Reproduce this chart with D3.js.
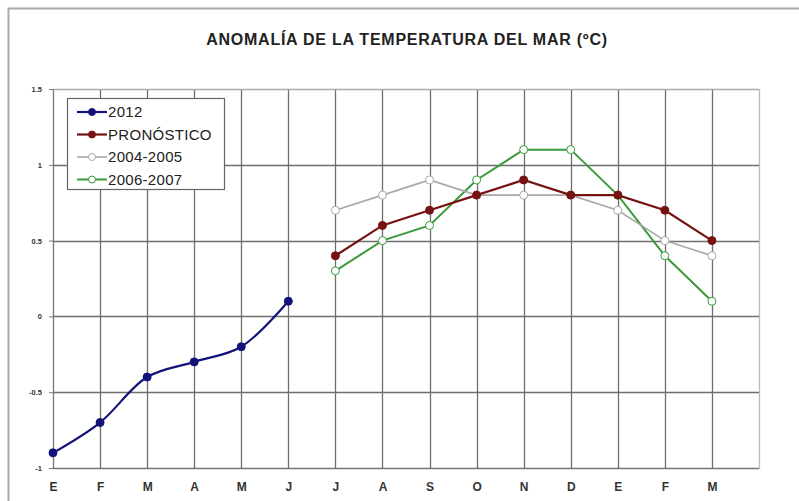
<!DOCTYPE html>
<html>
<head>
<meta charset="utf-8">
<script src="https://cdn.jsdelivr.net/npm/d3@7"></script>
<style>
  body { margin: 0; background: #fff; }
  svg { font-family: "Liberation Sans", Arial, sans-serif; }
</style>
</head>
<body>
<div id="chart"></div>
<script>
// months along the x axis (Jan 2012 .. Mar 2013)
var months = ["E","F","M","A","M","J","J","A","S","O","N","D","E","F","M"];
var yTicks = [1.5, 1, 0.5, 0, -0.5, -1];

// series: [month index, value]
var s2012 = [[0,-0.9],[1,-0.7],[2,-0.4],[3,-0.3],[4,-0.2],[5,0.1]];
var pronostico = [[6,0.4],[7,0.6],[8,0.7],[9,0.8],[10,0.9],[11,0.8],[12,0.8],[13,0.7],[14,0.5]];
var s0405 = [[6,0.7],[7,0.8],[8,0.9],[9,0.8],[10,0.8],[11,0.8],[12,0.7],[13,0.5],[14,0.4]];
var s0607 = [[6,0.3],[7,0.5],[8,0.6],[9,0.9],[10,1.1],[11,1.1],[12,0.8],[13,0.4],[14,0.1]];

var W = 799, H = 501;
var margin = {top: 89, right: 40, bottom: 33, left: 53},
    width = W - margin.left - margin.right,
    height = H - margin.top - margin.bottom;

var svg = d3.select("#chart").append("svg")
    .attr("width", W).attr("height", H);

// outer frame of the chart area
svg.append("rect")
  .attr("x", 8.5).attr("y", 8.5)
  .attr("width", W + 10).attr("height", H + 10)
  .attr("fill", "none").attr("stroke", "#aaa").attr("stroke-width", 2);

svg.append("text")
  .attr("x", 407).attr("y", 45)
  .attr("text-anchor", "middle")
  .style("font-size", "16px").style("font-weight", "bold")
  .style("letter-spacing", "0.75px")
  .attr("fill", "#222")
  .text("ANOMALÍA DE LA TEMPERATURA DEL MAR (ºC)");

var g = svg.append("g")
  .attr("transform", "translate(" + margin.left + "," + margin.top + ")");

var x = d3.scaleLinear().domain([0, 15]).range([0, width]);
var y = d3.scaleLinear().domain([-1, 1.5]).range([height, 0]);

// vertical gridlines
g.append("g")
  .selectAll("line")
  .data(d3.range(0, 16))
  .enter().append("line")
    .attr("x1", function(d) { return Math.round(x(d)) + 0.5; })
    .attr("x2", function(d) { return Math.round(x(d)) + 0.5; })
    .attr("y1", 0).attr("y2", height)
    .attr("stroke", function(d) { return d == 15 ? "#bbb" : "#6e6e6e"; })
    .attr("stroke-width", 1.3);

// horizontal gridlines
g.append("g")
  .selectAll("line")
  .data(yTicks)
  .enter().append("line")
    .attr("x1", 0).attr("x2", width)
    .attr("y1", function(d) { return Math.round(y(d)) + 0.5; })
    .attr("y2", function(d) { return Math.round(y(d)) + 0.5; })
    .attr("stroke", function(d) { return d == 1.5 ? "#aaa" : "#6e6e6e"; })
    .attr("stroke-width", 1.3);

// y axis
var yAxis = g.append("g")
  .call(d3.axisLeft(y).tickValues(yTicks).tickSize(4).tickFormat(function(d) { return d; }));
yAxis.select(".domain").attr("stroke", "#777");
yAxis.selectAll(".tick line").attr("stroke", "#777");
yAxis.selectAll("text")
  .style("font-size", "7.5px").style("font-weight", "bold")
  .attr("fill", "#333").attr("x", -11);

// x axis
var xAxis = g.append("g")
  .attr("transform", "translate(0," + height + ")")
  .call(d3.axisBottom(x).tickValues(d3.range(0, 15)).tickSize(0)
        .tickFormat(function(d) { return months[d]; }));
xAxis.select(".domain").attr("stroke", "#777");
xAxis.selectAll("text")
  .style("font-size", "12px").style("font-weight", "bold")
  .attr("fill", "#333").attr("y", 12).attr("dy", "0.95em");

var line = d3.line()
  .x(function(d) { return x(d[0]); })
  .y(function(d) { return y(d[1]); });
var smooth = d3.line()
  .x(function(d) { return x(d[0]); })
  .y(function(d) { return y(d[1]); })
  .curve(d3.curveCatmullRom.alpha(0.5));

var series = [
  {name: "2012", data: s2012, color: "#12127a", fill: "#12127a", gen: smooth, w: 2.2},
  {name: "PRONÓSTICO", data: pronostico, color: "#761212", fill: "#761212", gen: line, w: 2.2},
  {name: "2004-2005", data: s0405, color: "#a8a8a8", fill: "#fff", gen: line, w: 1.6},
  {name: "2006-2007", data: s0607, color: "#3a9a3a", fill: "#fff", gen: line, w: 2}
];

// draw later series first so they sit below (2012 and pronostico on top)
series.slice().reverse().forEach(function(s) {
  g.append("path")
    .datum(s.data)
    .attr("d", s.gen)
    .attr("fill", "none")
    .attr("stroke", s.color)
    .attr("stroke-width", s.w);
  g.selectAll(null)
    .data(s.data)
    .enter().append("circle")
      .attr("cx", function(d) { return x(d[0]); })
      .attr("cy", function(d) { return y(d[1]); })
      .attr("r", 4)
      .attr("fill", s.fill)
      .attr("stroke", s.color)
      .attr("stroke-width", 1);
});

// legend
var lg = svg.append("g").attr("transform", "translate(67,98)");
lg.append("rect")
  .attr("x", 0.5).attr("y", 0.5).attr("width", 157).attr("height", 91)
  .attr("fill", "#fff").attr("stroke", "#666").attr("stroke-width", 1.2);
series.forEach(function(s, i) {
  var yy = 14 + i * 22.5;
  lg.append("line")
    .attr("x1", 10).attr("x2", 40).attr("y1", yy).attr("y2", yy)
    .attr("stroke", s.color).attr("stroke-width", s.w);
  lg.append("circle")
    .attr("cx", 25).attr("cy", yy).attr("r", 3.5)
    .attr("fill", s.fill).attr("stroke", s.color);
  lg.append("text")
    .attr("x", 41).attr("y", yy + 5)
    .style("font-size", "15px")
    .style("letter-spacing", "0.3px")
    .attr("fill", "#222")
    .text(s.name);
});
</script>
</body>
</html>
